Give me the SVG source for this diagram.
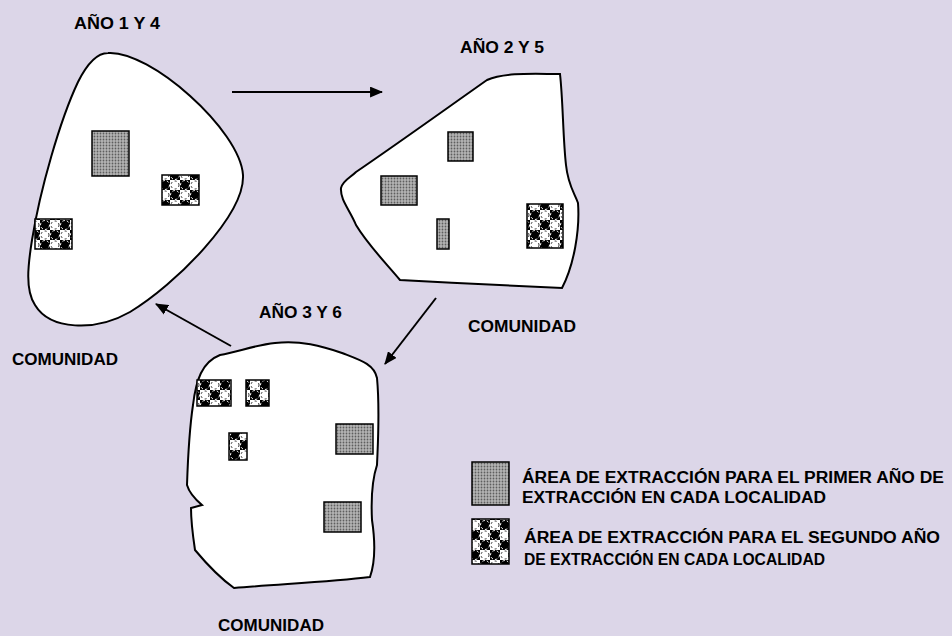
<svg xmlns="http://www.w3.org/2000/svg" width="952" height="636" viewBox="0 0 952 636">
<defs>
<pattern id="gray" width="3" height="3" patternUnits="userSpaceOnUse">
<rect width="3" height="3" fill="#b4b4b4"/>
<circle cx="1.5" cy="1.5" r="0.9" fill="#5e5e5e"/>
</pattern>
<pattern id="balls" width="20" height="20" patternUnits="userSpaceOnUse">
<rect width="20" height="20" fill="#000"/>
<rect x="10" y="0" width="10" height="10" fill="#fff"/>
<rect x="0" y="10" width="10" height="10" fill="#fff"/>
<circle cx="5" cy="5" r="4.5" fill="none" stroke="#fff" stroke-width="1" stroke-dasharray="2.5 2"/>
<circle cx="15" cy="15" r="4.5" fill="none" stroke="#fff" stroke-width="1" stroke-dasharray="2.5 2"/>
<circle cx="15" cy="5" r="4" fill="none" stroke="#000" stroke-width="0.8" stroke-dasharray="2 2.5"/>
<circle cx="5" cy="15" r="4" fill="none" stroke="#000" stroke-width="0.8" stroke-dasharray="2 2.5"/>
</pattern>
<marker id="ah" viewBox="0 0 12 10" refX="11" refY="5" markerWidth="13" markerHeight="11" markerUnits="userSpaceOnUse" orient="auto">
<path d="M0,0 L12,5 L0,10 Z" fill="#000"/>
</marker>
</defs>
<style>
.blob{fill:#fff;stroke:#000;stroke-width:2}
.g{fill:url(#gray);stroke:#000;stroke-width:1.5}
.b{fill:url(#balls);stroke:#000;stroke-width:1.5}
.t{font-family:"Liberation Sans",Arial,sans-serif;font-weight:bold;font-size:17px;fill:#000}
.lg{font-family:"Liberation Sans",Arial,sans-serif;font-weight:bold;font-size:17.4px;fill:#000}
.c{stroke:#000;stroke-width:2;fill:none;marker-end:url(#ah)}
</style>
<rect width="952" height="636" fill="#dcd6e8"/>

<g id="comunidad1">
<path class="blob" d="M108,53 C150,50 240,130 243,175 C245,215 175,285 130,312 C95,332 50,330 35,305 C25,290 28,265 32,240 C40,190 60,120 78,82 C88,62 98,53 108,53 Z"/>
<rect class="g" x="92" y="131" width="37" height="45"/>
<rect class="b" x="162" y="175" width="37" height="30"/>
<rect class="b" x="35" y="219" width="37" height="30"/>
<text class="t" x="74" y="29" textLength="86" lengthAdjust="spacingAndGlyphs">AÑO 1 Y 4</text>
<text class="t" x="12" y="365" textLength="106" lengthAdjust="spacingAndGlyphs">COMUNIDAD</text>
</g>

<g id="comunidad2">
<path class="blob" d="M487,80 C505,72 535,74 560,74 C563,100 563,140 566,165 C568,185 574,192 578,203 C580,230 574,265 562,288 C520,286 455,283 400,280 C385,262 368,245 356,225 C350,210 340,200 341,188 C343,180 350,178 356,172 C400,142 450,106 487,80 Z"/>
<rect class="g" x="448" y="132" width="25" height="29"/>
<rect class="g" x="381" y="176" width="36" height="29"/>
<rect class="g" x="437" y="219" width="12" height="30"/>
<rect class="b" x="527" y="204" width="36" height="44"/>
<text class="t" x="460" y="53" textLength="84" lengthAdjust="spacingAndGlyphs">AÑO 2 Y 5</text>
<text class="t" x="468" y="332" textLength="108" lengthAdjust="spacingAndGlyphs">COMUNIDAD</text>
</g>

<g id="comunidad3">
<path class="blob" d="M220,355 C238,352 255,345 275,343 C300,340 322,346 342,353 C360,360 374,364 377,378 C380,410 378,440 377,465 C372,480 371,500 372,520 C375,540 376,560 370,577 C330,582 280,584 234,588 C220,578 205,562 195,550 C192,530 191,520 191,508 L202,505 C196,500 189,492 187,485 C188,455 190,425 193,405 C196,380 202,362 220,355 Z"/>
<rect class="b" x="197" y="380" width="34" height="26"/>
<rect class="b" x="246" y="380" width="23" height="26"/>
<rect class="b" x="229" y="433" width="18" height="27"/>
<rect class="g" x="336" y="424" width="37" height="30"/>
<rect class="g" x="324" y="502" width="37" height="30"/>
<text class="t" x="259" y="318" textLength="83" lengthAdjust="spacingAndGlyphs">AÑO 3 Y 6</text>
<text class="t" x="218" y="631" textLength="106" lengthAdjust="spacingAndGlyphs">COMUNIDAD</text>
</g>

<g id="connectors">
<line class="c" x1="232" y1="92" x2="382" y2="92"/>
<line class="c" x1="436" y1="298" x2="385" y2="364"/>
<line class="c" x1="231" y1="346" x2="156" y2="304"/>
</g>

<g id="legend">
<rect class="g" x="472" y="462" width="37" height="43"/>
<rect class="b" x="472" y="519" width="37" height="45"/>
<text class="lg" x="522" y="483" textLength="422" lengthAdjust="spacingAndGlyphs">ÁREA DE EXTRACCIÓN PARA EL PRIMER AÑO DE</text>
<text class="lg" x="522" y="503" textLength="304" lengthAdjust="spacingAndGlyphs">EXTRACCIÓN EN CADA LOCALIDAD</text>
<text class="lg" x="524" y="543" textLength="416" lengthAdjust="spacingAndGlyphs">ÁREA DE EXTRACCIÓN PARA EL SEGUNDO AÑO</text>
<text class="lg" x="524" y="565" textLength="301" lengthAdjust="spacingAndGlyphs">DE EXTRACCIÓN EN CADA LOCALIDAD</text>
</g>
</svg>
